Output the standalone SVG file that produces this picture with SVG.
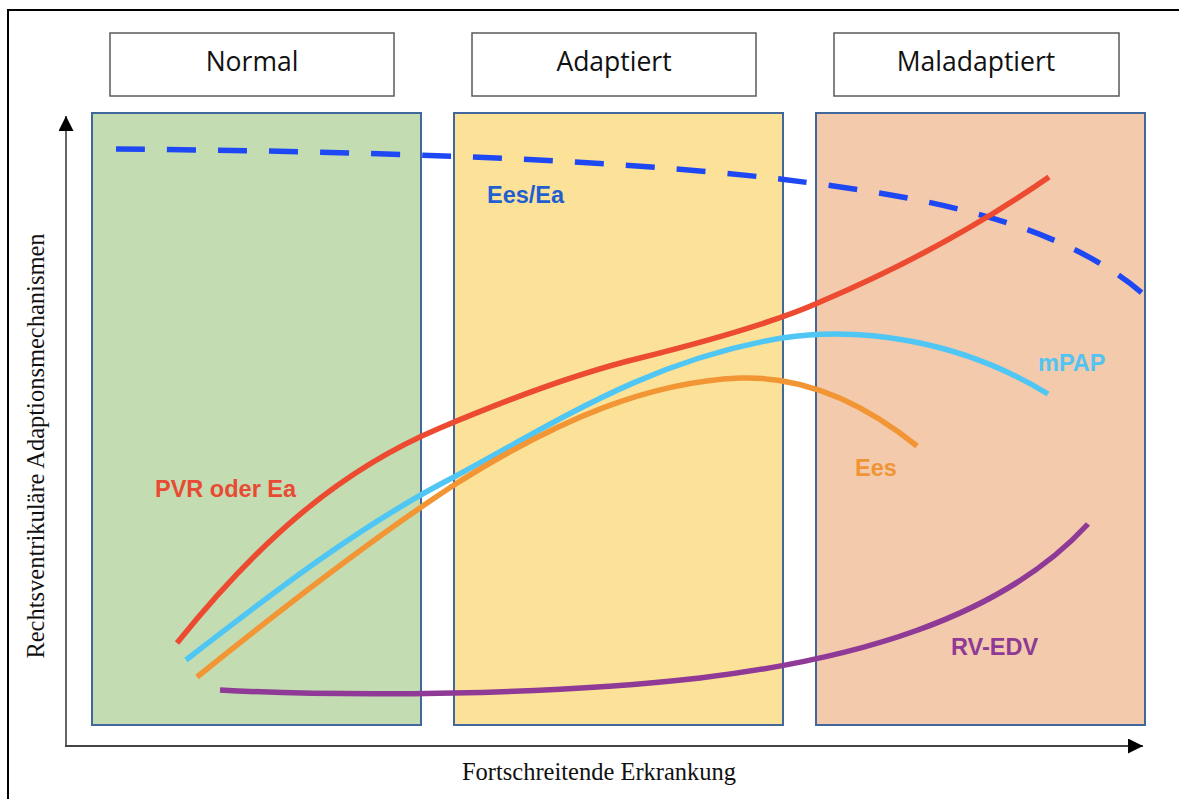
<svg xmlns="http://www.w3.org/2000/svg" width="1179" height="799" viewBox="0 0 1179 799">
<style>
.hdr{fill:#fff;stroke:#5a5a5a;stroke-width:1.5}
.hdrt{font-family:"Open Sans","Noto Sans",sans-serif;font-size:26.5px;fill:#111;text-anchor:middle}
.phase{stroke:#41689c;stroke-width:2}
.curve{fill:none;stroke-width:5.5;stroke-linecap:butt}
.lbl{font-family:"Liberation Sans",Arial,sans-serif;font-weight:bold;font-size:23.5px}
.ax{font-family:"Liberation Serif","Times New Roman",serif;font-size:24.5px;fill:#111}
</style>
<defs>
<marker id="ah" markerWidth="15" markerHeight="15" refX="15" refY="7.5" orient="auto" markerUnits="userSpaceOnUse">
<path d="M0,0 L15,7.5 L0,15 Z" fill="#000"/>
</marker>
</defs>
<rect width="1179" height="799" fill="#fff"/>
<path d="M8,799 L8,10 L1179,10" fill="none" stroke="#000" stroke-width="2"/>

<g id="phase-normal"><rect class="phase" x="92" y="113" width="329" height="612" fill="#c3dcb2"/></g>
<g id="phase-adaptiert"><rect class="phase" x="454" y="113" width="329" height="612" fill="#fce298"/></g>
<g id="phase-maladaptiert"><rect class="phase" x="816" y="113" width="329" height="612" fill="#f3caab"/></g>

<g id="hdr-normal"><rect class="hdr" x="110" y="33" width="284" height="63"/><text class="hdrt" x="252" y="71">Normal</text></g>
<g id="hdr-adaptiert"><rect class="hdr" x="472" y="33" width="284" height="63"/><text class="hdrt" x="614" y="71">Adaptiert</text></g>
<g id="hdr-maladaptiert"><rect class="hdr" x="834" y="33" width="285" height="63"/><text class="hdrt" x="976" y="71">Maladaptiert</text></g>

<g id="axes">
<line x1="66" y1="746" x2="66" y2="116" stroke="#555" stroke-width="1.8" marker-end="url(#ah)"/>
<line x1="65" y1="746" x2="1143" y2="746" stroke="#444" stroke-width="1.8" marker-end="url(#ah)"/>
<text class="ax" x="599" y="780" text-anchor="middle">Fortschreitende Erkrankung</text>
<text class="ax" transform="translate(44,446) rotate(-90)" text-anchor="middle">Rechtsventrikuläre Adaptionsmechanismen</text>
</g>

<g id="connectors">
<path id="ees-ea" class="curve" d="M116,149 C350,151 600,158 780,179 C900,194 1050,215 1142,293" stroke="#1f48f5" stroke-dasharray="29,22"/>
<path id="pvr" class="curve" d="M177,643 C260,540 340,470 440,428 C530,390 590,370 640,358 C720,338 780,320 820,302 C900,268 980,225 1049,177" stroke="#ec4a31"/>
<path id="mpap" class="curve" d="M186,660 C270,595 360,525 454,477 C560,420 650,360 782,338 C860,326 960,340 1048,394" stroke="#50c6f5"/>
<path id="ees" class="curve" d="M197,677 C280,610 370,540 454,485 C560,418 650,382 740,378 C800,376 860,400 917,446" stroke="#f29535"/>
<path id="rvedv" class="curve" d="M220,690 C350,697 550,695 700,678 C850,660 1000,620 1088,524" stroke="#8e3a96"/>
</g>

<g id="labels">
<text class="lbl" x="487" y="203" fill="#1f5fd0">Ees/Ea</text>
<text class="lbl" x="155" y="497" fill="#e84a33">PVR oder Ea</text>
<text class="lbl" x="1038" y="371" fill="#52c4f3">mPAP</text>
<text class="lbl" x="855" y="476" fill="#f09535">Ees</text>
<text class="lbl" x="951" y="655" fill="#8e3a96">RV-EDV</text>
</g>
</svg>
